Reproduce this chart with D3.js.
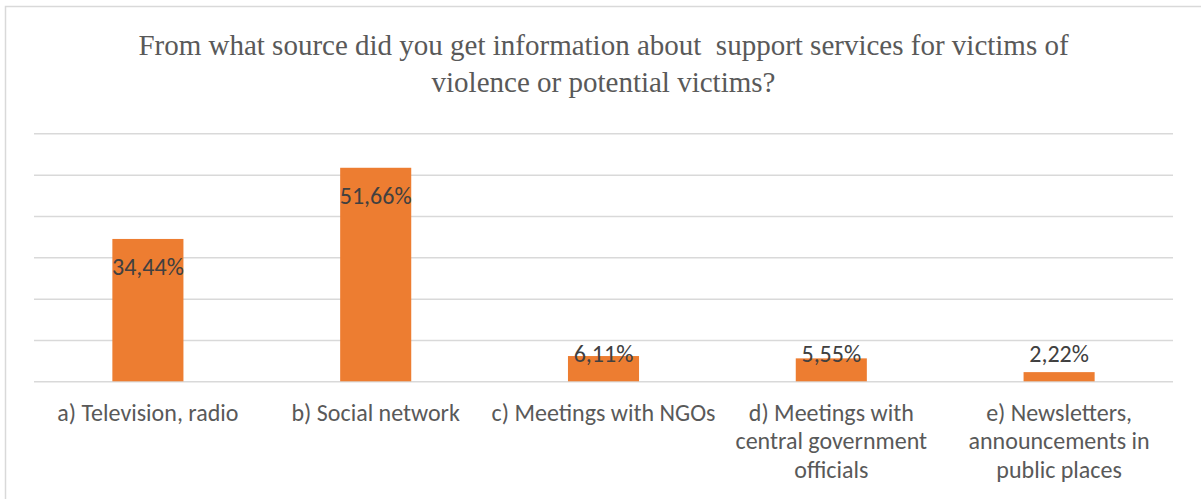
<!DOCTYPE html>
<html>
<head>
<meta charset="utf-8">
<script src="https://cdn.jsdelivr.net/npm/d3@7"></script>
<style>
  body { margin: 0; background: #fff; }
  svg { display: block; }
</style>
</head>
<body>
<div id="chart"></div>
<script>
const width = 1201;
const height = 499;

const titleLines = [
    'From what source did you get information about  support services for victims of',
    'violence or potential victims?'
];
const categories = [
    ['a) Television, radio'],
    ['b) Social network'],
    ['c) Meetings with NGOs'],
    ['d) Meetings with', 'central government', 'officials'],
    ['e) Newsletters,', 'announcements in', 'public places']
];
const values = [34.44, 51.66, 6.11, 5.55, 2.22];
const valueLabels = ['34,44%', '51,66%', '6,11%', '5,55%', '2,22%'];
const gridTicks = [0, 10, 20, 30, 40, 50, 60];

const bar_color = '#ed7d31';
const grid_color = '#d9d9d9';
const sans = 'Carlito, Calibri, Lato, sans-serif';

var svg = d3.select('#chart')
            .append('svg')
            .attr('width', width)
            .attr('height', height)
            .style('font-family', sans);

svg.append('rect')
    .attr('width', width)
    .attr('height', height)
    .attr('fill', '#fff');

// chart frame
svg.append('rect')
    .attr('x', 5.5)
    .attr('y', 6.5)
    .attr('width', width)
    .attr('height', height)
    .attr('fill', 'none')
    .attr('stroke', grid_color)
    .attr('stroke-width', 1.5);

svg.append('g')
    .selectAll('text')
    .data(titleLines)
    .enter()
    .append('text')
    .attr('x', 603.5)
    .attr('y', function(d, i){ return 55 + i * 37; })
    .attr('text-anchor', 'middle')
    .attr('fill', '#595959')
    .style('font-family', '"Liberation Serif", serif')
    .style('font-size', '29px')
    .style('white-space', 'pre')
    .text(function(d){ return d; });

var xScale = d3.scaleBand()
                .domain(d3.range(categories.length))
                .range([34, 1173])
                .padding(0);
var yScale = d3.scaleLinear()
                .domain([0, 60])
                .range([381.3, 133.3]);

// gridlines
svg.append('g')
    .call(d3.axisLeft(yScale).tickValues(gridTicks).tickSize(-(1173 - 34)).tickFormat(''))
    .attr('transform', 'translate(34,0)')
    .call(function(g){
        g.select('.domain').remove();
        g.selectAll('line').attr('stroke', grid_color).attr('stroke-width', 1.5);
    });

var barWidth = xScale.bandwidth() * 0.312;

svg.append('g')
    .selectAll('rect')
    .data(values)
    .enter()
    .append('rect')
    .attr('x', function(d, i){ return xScale(i) + (xScale.bandwidth() - barWidth) / 2; })
    .attr('y', function(d){ return yScale(d); })
    .attr('width', barWidth)
    .attr('height', function(d){ return yScale(0) - yScale(d); })
    .attr('fill', bar_color);

svg.append('g')
    .selectAll('text')
    .data(values)
    .enter()
    .append('text')
    .attr('x', function(d, i){ return xScale(i) + xScale.bandwidth() / 2; })
    .attr('y', function(d){ return Math.min(yScale(d) + 36, yScale(0) - 19); })
    .attr('text-anchor', 'middle')
    .attr('fill', '#404040')
    .style('font-size', '24px')
    .text(function(d, i){ return valueLabels[i]; });

// category labels
var cat = svg.append('g')
    .selectAll('text')
    .data(categories)
    .enter()
    .append('text')
    .attr('text-anchor', 'middle')
    .attr('fill', '#595959')
    .style('font-size', '24px');

cat.selectAll('tspan')
    .data(function(d, i){ return d.map(function(line){ return {line: line, i: i}; }); })
    .enter()
    .append('tspan')
    .attr('x', function(d){ return xScale(d.i) + xScale.bandwidth() / 2; })
    .attr('y', function(d, j){ return 421 + j * 28.4; })
    .text(function(d){ return d.line; });
</script>
</body>
</html>
